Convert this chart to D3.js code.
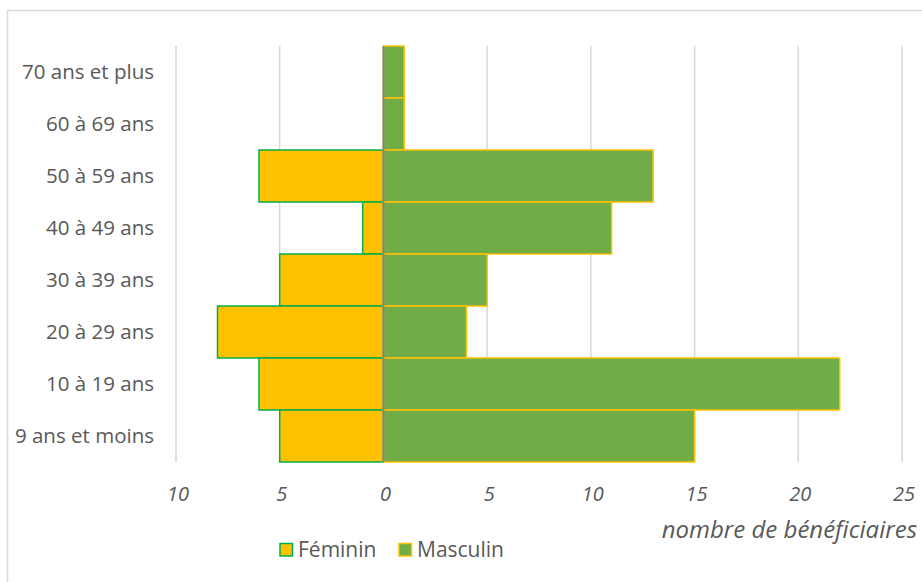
<!DOCTYPE html>
<html><head><meta charset="utf-8">
<script src="https://cdn.jsdelivr.net/npm/d3@7"></script>
<style>body{margin:0;background:#fff}svg{display:block}text{font-family:"Open Sans",sans-serif}</style>
</head><body>
<svg id="c" width="922" height="582"></svg>
<script>
const categories = ["70 ans et plus","60 à 69 ans","50 à 59 ans","40 à 49 ans","30 à 39 ans","20 à 29 ans","10 à 19 ans","9 ans et moins"];
const feminin = [0,0,6,1,5,8,6,5];
const masculin = [1,1,13,11,5,4,22,15];
const tickValues = [-10,-5,0,5,10,15,20,25];
const seriesNames = ["Féminin","Masculin"];
const axisTitle = "nombre de bénéficiaires";

const svg = d3.select("#c");
svg.append("rect").attr("x",7.5).attr("y",10.5).attr("width",930).attr("height",600)
  .attr("fill","#fff").attr("stroke","#d9d9d9").attr("stroke-width",1.5);

const x = d3.scaleLinear().domain([-10,25]).range([176,902]);
const y = d3.scaleBand().domain(categories).range([46,462]).padding(0);

const g = svg.append("g");
g.selectAll("line.grid").data(tickValues.filter(v=>v!==0)).join("line")
  .attr("x1",d=>x(d)).attr("x2",d=>x(d)).attr("y1",46).attr("y2",462)
  .attr("stroke","#d9d9d9").attr("stroke-width",1.5);

g.selectAll("rect.f").data(categories).join("rect")
  .attr("x",(d,i)=>x(-feminin[i])).attr("y",d=>y(d))
  .attr("width",(d,i)=>x(0)-x(-feminin[i])).attr("height",y.bandwidth())
  .attr("fill","#FFC000").attr("stroke","#00B050").attr("stroke-width",1.5)
  .attr("display",(d,i)=>feminin[i]>0?null:"none");

g.selectAll("rect.m").data(categories).join("rect")
  .attr("x",x(0)).attr("y",d=>y(d))
  .attr("width",(d,i)=>x(masculin[i])-x(0)).attr("height",y.bandwidth())
  .attr("fill","#70AD47").attr("stroke","#FFC000").attr("stroke-width",1.5);

g.append("line").attr("x1",x(0)).attr("x2",x(0)).attr("y1",46).attr("y2",462)
  .attr("stroke","#868686").attr("stroke-width",2);

g.selectAll("text.cat").data(categories).join("text")
  .attr("x",154).attr("y",d=>y(d)+y.bandwidth()/2).attr("dy","0.35em")
  .attr("text-anchor","end").attr("font-size",20.5).attr("fill","#595959").text(d=>d);

g.selectAll("text.tick").data(tickValues).join("text")
  .attr("x",d=>x(d)+2).attr("y",501).attr("text-anchor","middle")
  .attr("font-size",20).attr("font-style","italic").attr("fill","#595959")
  .text(d=>Math.abs(d));

g.append("text").attr("x",917).attr("y",538).attr("text-anchor","end")
  .attr("font-size",24).attr("font-style","italic").attr("fill","#595959").text(axisTitle);

const leg = [{n:seriesNames[0],fill:"#FFC000",stroke:"#00B050",x:280},{n:seriesNames[1],fill:"#70AD47",stroke:"#FFC000",x:399}];
leg.forEach(l=>{
  svg.append("rect").attr("x",l.x).attr("y",543.5).attr("width",12.5).attr("height",12.5)
    .attr("fill",l.fill).attr("stroke",l.stroke).attr("stroke-width",1.5);
  svg.append("text").attr("x",l.x+18).attr("y",557)
    .attr("font-size",21).attr("fill","#595959").text(l.n);
});
</script>
</body></html>
